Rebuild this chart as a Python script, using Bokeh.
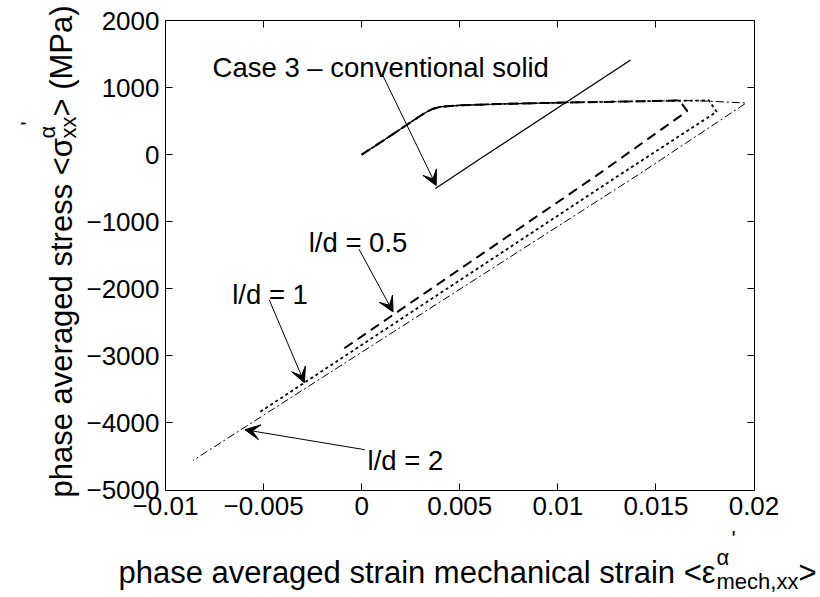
import math
from bokeh.plotting import figure
from bokeh.models import (Range1d, LinearAxis, FixedTicker, Label, Arrow, VeeHead,
                          CustomJSTickFormatter)
from bokeh.embed import file_html
from bokeh.resources import INLINE

# ---------------- data ----------------
x_ticks = [-0.01, -0.005, 0.0, 0.005, 0.01, 0.015, 0.02]
x_tick_labels = ["\u22120.01", "\u22120.005", "0", "0.005", "0.01", "0.015", "0.02"]
y_ticks = [-5000, -4000, -3000, -2000, -1000, 0, 1000, 2000]
y_tick_labels = ["\u22125000", "\u22124000", "\u22123000", "\u22122000", "\u22121000", "0", "1000", "2000"]

# Case 3 - conventional solid
case3_load_x = [0.0, 0.001, 0.002, 0.003, 0.0033, 0.0036, 0.0040, 0.0050, 0.0070, 0.0090, 0.0105]
case3_load_y = [0, 190, 385, 580, 635, 680, 712, 735, 755, 768, 778]
case3_line_x = [0.00376, 0.00606, 0.01371]
case3_line_y = [-504, -57, 1410]

# l/d = 0.5 (dashed)
ld05_x = [0.0, 0.001, 0.002, 0.003, 0.0033, 0.0036, 0.0040, 0.0050, 0.0070, 0.0090, 0.0110, 0.0130, 0.0150, 0.0162, 0.0166, 0.0120, -0.0011]
ld05_y = [0, 190, 385, 580, 635, 680, 712, 735, 755, 768, 780, 790, 800, 810, 650, -306, -2930]

# l/d = 1 (dotted)
ld1_x = [0.0, 0.001, 0.002, 0.003, 0.0033, 0.0036, 0.0040, 0.0050, 0.0070, 0.0090, 0.0110, 0.0130, 0.0150, 0.0170, 0.0177, 0.0181, 0.0130, -0.0052]
ld1_y = [0, 190, 385, 580, 635, 680, 712, 735, 755, 768, 780, 790, 800, 806, 808, 640, -331, -3840]

# l/d = 2 (dash-dot)
ld2_x = [0.0, 0.001, 0.002, 0.003, 0.0033, 0.0036, 0.0040, 0.0050, 0.0070, 0.0090, 0.0110, 0.0130, 0.0150, 0.0170, 0.0196, 0.0142, -0.0086]
ld2_y = [0, 190, 385, 580, 635, 680, 712, 735, 755, 768, 780, 790, 800, 806, 770, -281, -4560]

# annotations
note_texts = ["Case 3 \u2013 conventional solid", "l/d = 0.5", "l/d = 1", "l/d = 2"]
note_x = [-0.0076, -0.0027, -0.0066, 0.0003]
note_y = [1300, -1310, -2080, -4560]
arrow_x0 = [0.00107, -0.00014, -0.00471, 0.00016]
arrow_y0 = [1185, -1407, -2166, -4399]
arrow_x1 = [0.00380, 0.00160, -0.00292, -0.00595]
arrow_y1 = [-462, -2345, -3400, -4102]

FONT = "Liberation Sans"

# ---------------- layout: the axes box sits inside a full-canvas frame ----------------
W, H = 820, 597
BOX_L, BOX_R, BOX_T, BOX_B = 165.0, 753.5, 20.0, 489.5      # box edges, canvas px
X_LO, X_HI = x_ticks[0], x_ticks[-1]
Y_LO, Y_HI = y_ticks[0], y_ticks[-1]
SX = (X_HI - X_LO) / (BOX_R - BOX_L)    # data per px
SY = (Y_HI - Y_LO) / (BOX_B - BOX_T)
XR0 = X_LO - BOX_L * SX
XR1 = X_LO + (W - BOX_L) * SX
YR0 = Y_LO - (H - BOX_B) * SY
YR1 = Y_HI + BOX_T * SY

def dx(px):   # canvas px -> data x
    return XR0 + px * SX

def dy(py):   # canvas px -> data y
    return YR1 - py * SY

p = figure(width=W, height=H,
           x_range=Range1d(XR0, XR1), y_range=Range1d(YR0, YR1),
           output_backend="svg", toolbar_location=None,
           min_border=0, min_border_left=0, min_border_right=0,
           min_border_top=0, min_border_bottom=0)
p.grid.visible = False
p.outline_line_color = None
p.background_fill_color = "white"
p.border_fill_color = "white"

xt = FixedTicker(ticks=x_ticks)
yt = FixedTicker(ticks=y_ticks)

def style_axis(ax):
    ax.axis_line_color = "black"
    ax.axis_line_width = 1
    ax.major_tick_in = 7
    ax.major_tick_out = 0
    ax.minor_tick_in = 0
    ax.minor_tick_out = 0
    ax.major_tick_line_color = "black"
    ax.major_label_text_font = FONT
    ax.major_label_text_color = "black"
    ax.major_label_text_font_size = "26px"

bottom = p.xaxis[0]
bottom.ticker = xt
bottom.major_label_overrides = dict(zip(x_ticks, x_tick_labels))
bottom.fixed_location = Y_LO
bottom.bounds = (X_LO, X_HI)
style_axis(bottom)
bottom.major_label_standoff = 7

left = p.yaxis[0]
left.ticker = yt
left.major_label_overrides = dict(zip(y_ticks, y_tick_labels))
left.fixed_location = X_LO
left.bounds = (Y_LO, Y_HI)
style_axis(left)
left.major_label_standoff = 6

blank = CustomJSTickFormatter(code="return ''")
top = LinearAxis(ticker=xt, formatter=blank, fixed_location=Y_HI, bounds=(X_LO, X_HI))
right = LinearAxis(ticker=yt, formatter=blank, fixed_location=X_HI, bounds=(Y_LO, Y_HI))
style_axis(top)
style_axis(right)
p.add_layout(top, "above")
p.add_layout(right, "right")

# ---------------- lines ----------------
p.line(ld2_x, ld2_y, line_color="black", line_width=1, line_dash="8 3 2 3")
p.line(ld1_x, ld1_y, line_color="black", line_width=1.8, line_dash="3 3")
p.line(ld05_x, ld05_y, line_color="black", line_width=2, line_dash="10 6")
p.line(case3_load_x, case3_load_y, line_color="black", line_width=1.2)
p.line(case3_line_x, case3_line_y, line_color="black", line_width=1.3)

# ---------------- annotations ----------------
for t, x, y in zip(note_texts, note_x, note_y):
    p.add_layout(Label(x=x, y=y, text=t, text_font=FONT, text_font_size="27.5px",
                       text_color="black", text_baseline="alphabetic", text_align="left"))
for xa, ya, xb, yb in zip(arrow_x0, arrow_y0, arrow_x1, arrow_y1):
    p.add_layout(Arrow(x_start=xa, y_start=ya, x_end=xb, y_end=yb, line_width=1, line_color="black",
                       end=VeeHead(size=15, fill_color="black", line_color="black", line_width=1)))

# ---------------- axis titles (pieces placed at canvas px) ----------------
BIG, SMALL = "31px", "22px"

def piece(text, px, py, size, angle=0.0):
    p.add_layout(Label(x=dx(px), y=dy(py), text=text, text_font=FONT, text_font_size=size,
                       text_color="black", text_baseline="alphabetic", text_align="left",
                       angle=angle))

# x title
piece("phase averaged strain mechanical strain <\u03b5", 118, 572, BIG)
piece("\u03b1", 716, 557, SMALL)
piece("'", 731, 538, SMALL)
piece("mech,xx", 716, 581, SMALL)
piece(">", 798, 572, BIG)

# y title (rotated, reads upward)
A = math.pi / 2
piece("phase averaged stress <\u03c3", 61, 497, BIG, A)
piece("\u03b1", 47, 138, SMALL, A)
piece("'", 28, 125, SMALL, A)
piece("xx", 68, 138, SMALL, A)
piece("> (MPa)", 61, 116, BIG, A)

open("out.html", "w").write(file_html(p, INLINE))
